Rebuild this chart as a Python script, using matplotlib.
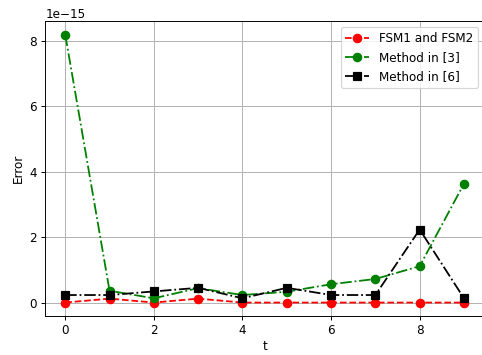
import matplotlib
matplotlib.use("Agg")
import matplotlib.pyplot as plt
import numpy as np

t = np.arange(10)
fsm = [0, 0.12, 0, 0.12, 0, 0, 0, 0, 0, 0]
method3 = [8.18, 0.36, 0.13, 0.44, 0.23, 0.33, 0.56, 0.72, 1.11, 3.63]
method6 = [0.23, 0.23, 0.34, 0.45, 0.13, 0.45, 0.23, 0.23, 2.23, 0.13]
yticks = [0, 2, 4, 6, 8]
scale = 1e-15

dpi = 86
fig = plt.figure(figsize=(482 / dpi, 355 / dpi), dpi=dpi)
ax = fig.add_axes([0.094, 0.11, 0.91, 0.83])

ax.plot(t, np.array(fsm) * scale, 'r--', marker='o', markersize=7, label='FSM1 and FSM2')
ax.plot(t, np.array(method3) * scale, 'g-.', marker='o', markersize=7, label='Method in [3]')
ax.plot(t, np.array(method6) * scale, 'k-.', marker='s', markersize=7, label='Method in [6]')

ax.set_yticks(np.array(yticks) * scale)
ax.set_xlabel('t', labelpad=2)
ax.set_ylabel('Error')
ax.grid(True)
ax.legend(loc='upper right')

fig.savefig('out.png', dpi=dpi)
